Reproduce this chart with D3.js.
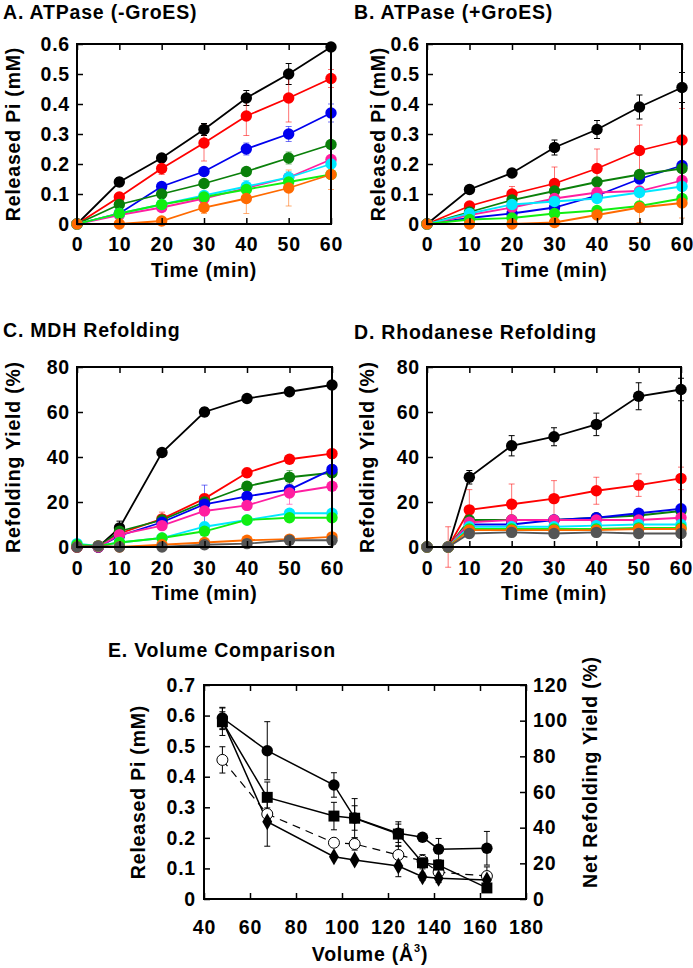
<!DOCTYPE html>
<html><head><meta charset="utf-8">
<script src="https://cdn.jsdelivr.net/npm/d3@7"></script>
<style>
body{margin:0;background:#fff}
svg text{font-family:"Liberation Sans",Arial,Helvetica,sans-serif;font-weight:bold;fill:#000;letter-spacing:0.8px}
</style></head><body>
<svg id="c" width="693" height="968"></svg>
<script>
// ---------- data ----------
const timeAB = [0,10,20,30,40,50,60];
const timeCD = [0,5,10,20,30,40,50,60];
const colorsAB = ["#000000","#ff0000","#0000ee","#0a800a","#ff1ea0","#00e8ff","#11ee11","#ff6a00"];
const colorsCD = ["#000000","#ff0000","#0a800a","#0000ee","#ff1ea0","#00e8ff","#11ee11","#ff6a00","#555555"];

// A. ATPase (-GroES), series order: black, red, blue, dark green, magenta, cyan, lime, orange
const atpNoGroES = [
  [0,0.14,0.22,0.315,0.42,0.50,0.59],
  [0,0.09,0.185,0.27,0.36,0.42,0.485],
  [0,0.035,0.125,0.175,0.25,0.30,0.37],
  [0,0.065,0.10,0.135,0.175,0.22,0.265],
  [0,0.03,0.055,0.085,0.12,0.155,0.215],
  [0,0.035,0.065,0.095,0.125,0.155,0.20],
  [0,0.035,0.065,0.09,0.115,0.14,0.165],
  [0,0,0.01,0.055,0.085,0.12,0.165]
];
const atpNoGroESErr = [
  [0,0.015,0.01,0.02,0.025,0.035,0.005],
  [0,0.01,0.02,0.06,0.065,0.08,0.03],
  [0,0.005,0.01,0.01,0.02,0.025,0.03],
  [0,0.01,0.01,0.01,0.01,0.02,0.01],
  [0,0.005,0.005,0.01,0.01,0.01,0.01],
  [0,0.005,0.01,0.01,0.02,0.02,0.015],
  [0,0.005,0.01,0.01,0.01,0.01,0.01],
  [0,0,0.005,0.02,0.05,0.06,0.05]
];
// B. ATPase (+GroES)
const atpGroES = [
  [0,0.115,0.17,0.255,0.315,0.39,0.455],
  [0,0.06,0.10,0.135,0.185,0.245,0.28],
  [0,0.02,0.035,0.055,0.095,0.15,0.195],
  [0,0.04,0.08,0.11,0.14,0.165,0.185],
  [0,0.03,0.055,0.085,0.105,0.11,0.145],
  [0,0.035,0.065,0.075,0.085,0.105,0.125],
  [0,0.015,0.02,0.035,0.045,0.06,0.085],
  [0,0,0,0.005,0.03,0.055,0.07]
];
const atpGroESErr = [
  [0,0.01,0.01,0.025,0.03,0.04,0.05],
  [0,0.01,0.025,0.055,0.065,0.085,0.105],
  [0,0.005,0.005,0.01,0.01,0.01,0.01],
  [0,0.005,0.01,0.01,0.01,0.01,0.01],
  [0,0.005,0.005,0.01,0.01,0.01,0.01],
  [0,0.005,0.01,0.01,0.01,0.01,0.01],
  [0,0.005,0.005,0.005,0.01,0.01,0.01],
  [0,0,0,0.005,0.01,0.05,0.05]
];
// C. MDH refolding (%), order: black, red, dark green, blue, magenta, cyan, lime, orange, gray
const mdhRefold = [
  [0,0,8.5,42,60,66,69,72],
  [0,0,6,12.5,21.5,33,39,41.5],
  [0,0,7,12,20,27,31,33],
  [0,0,5,11,19,22.5,25.5,34.5],
  [0,0,5.5,9.5,16,18.5,24,27],
  [1.5,0.5,2,4,9,12,15,15],
  [1,0.5,2,4,7,12,13,13],
  [0,0.5,0,1,2,3,3.5,4.5],
  [0,0.5,0,0,1,1.5,3,3]
];
const mdhRefoldErr = [
  [0,0,3,1,2,1,1,1],
  [0,0,1,3,2,2,1,2],
  [0,0,1,2,1,2,3,2],
  [0,0,1,2,8.5,2,2,2],
  [0,0,1,1,2,2,5,1],
  [0,0,1,1,2,1,1,1],
  [0,0,1,1,1,1,1,1],
  [0,0,0,0.5,0.5,0.5,0.5,0.5],
  [0,0,0,0.5,0.5,0.5,0.5,0.5]
];
// D. Rhodanese refolding (%)
const rhoRefold = [
  [0,0,31,45,49,54.5,67,70],
  [0,0,16.5,19,21.5,25,27.5,30.5],
  [0,0,12,12,12,13,14,16],
  [0,0,10,10,12,13,15,17],
  [0,0,11,12,12,12,12,13],
  [0,0,9,9,9,9.5,10,10],
  [0,0,8,8,8,8,8.5,8.5],
  [0,0,7.5,7.5,7.5,7.5,8,8],
  [0,0,6,6.5,6,6.5,6,6]
];
const rhoRefoldErr = [
  [0,0,3,4.5,4,5,6,5],
  [0,9,9,9,8,6,5,5],
  [0,0,1,1,1,1,1,1],
  [0,0,1,1,1,1,1,1],
  [0,0,1,1,1,1,1,1],
  [0,0,1,1,1,1,1,1],
  [0,0,1,1,1,1,1,1],
  [0,0,1,1,1,1,1,1],
  [0,0,2,2,2,2,2,2]
];
// E. Volume comparison
const volumes = [48,67.5,96.5,105.5,124.5,135,142,163];
const atpNoGroESVol = [0.592,0.485,0.373,0.265,0.215,0.202,0.163,0.166];
const atpNoGroESVolErr = [0.035,0.095,0.04,0.04,0.03,0.01,0.035,0.055];
const atpGroESVol = [0.455,0.278,0.184,0.18,0.144,0.125,0.088,0.075];
const atpGroESVolErr = [0.043,0.02,0.01,0.02,0.03,0.02,0.01,0.03];
const mdhNetYield = [99.4,57,46.5,45.3,36.4,20.3,19,6.2];
const mdhNetYieldErr = [7.7,8.6,7.7,11,6.9,3.4,2,2];
const rhoNetYield = [100,43.3,23.7,21.9,18.5,12.5,11.7,10.6];
const rhoNetYieldErr = [5,13.7,1,1,6,2,2.5,1];

const ticksAB_Y = [0,0.1,0.2,0.3,0.4,0.5,0.6];
const ticksCD_Y = [0,20,40,60,80];
const ticksTime = [0,10,20,30,40,50,60];
const ticksVol = [40,60,80,100,120,140,160,180];
const ticksVolL = [0,0.1,0.2,0.3,0.4,0.5,0.6,0.7];
const ticksVolR = [0,20,40,60,80,100,120];

// ---------- drawing ----------
const svg = d3.select("#c");
const FS = 19.5;
const fmtPi = d => d === 0 ? "0" : d3.format(".1f")(d);

function frame(g, x, y){
  g.append("rect").attr("x", x.range()[0]).attr("y", y.range()[1])
    .attr("width", x.range()[1]-x.range()[0]).attr("height", y.range()[0]-y.range()[1])
    .attr("fill","none").attr("stroke","#000").attr("stroke-width",2);
}
function styleAxis(a){
  a.attr("font-family",null).attr("font-size",null);
  a.select(".domain").remove();
  a.selectAll(".tick line").attr("stroke","#000").attr("stroke-width",1.5);
  a.selectAll(".tick text").attr("font-size",FS).attr("fill","#000");
}
function axes(g, x, y, xt, yt, yfmt, xpad, ypad){
  styleAxis(g.append("g").attr("transform",`translate(0,${y.range()[0]})`)
    .call(d3.axisBottom(x).tickValues(xt).tickSize(-6).tickSizeOuter(0).tickPadding(xpad)));
  styleAxis(g.append("g").attr("transform",`translate(0,${y.range()[1]})`)
    .call(d3.axisTop(x).tickValues(xt).tickSize(-6).tickSizeOuter(0).tickFormat("")));
  styleAxis(g.append("g").attr("transform",`translate(${x.range()[0]},0)`)
    .call(d3.axisLeft(y).tickValues(yt).tickSize(-6).tickSizeOuter(0).tickPadding(ypad).tickFormat(yfmt)));
}
function errBars(g, x, y, xs, vals, errs, color, op){
  const cap = 3;
  xs.forEach((t,i)=>{
    const e = errs[i]; if (!e) return;
    const cx = x(t), y1 = y(vals[i]-e), y2 = y(vals[i]+e);
    const p = `M${cx},${y1}V${y2}M${cx-cap},${y1}H${cx+cap}M${cx-cap},${y2}H${cx+cap}`;
    g.append("path").attr("d",p).attr("stroke",color).attr("stroke-width",1)
      .attr("fill","none").attr("opacity",op);
  });
}
function timePanel(o){
  const g = svg.append("g");
  const x = d3.scaleLinear().domain([0,60]).range([o.x0,o.x1]);
  const y = d3.scaleLinear().domain(o.yDomain).range([o.y1,o.y0]);
  const line = d3.line().x(d=>x(d[0])).y(d=>y(d[1]));
  o.series.forEach((s,k)=>{
    const c = o.colors[k];
    errBars(g, x, y, o.times, s, o.errs[k], c, c === "#000000" ? 1 : 0.55);
    g.append("path").datum(o.times.map((t,i)=>[t,s[i]])).attr("d",line)
      .attr("fill","none").attr("stroke",c).attr("stroke-width",1.8);
  });
  o.series.forEach((s,k)=>{
    g.selectAll(null).data(o.times.map((t,i)=>[t,s[i]])).enter().append("circle")
      .attr("cx",d=>x(d[0])).attr("cy",d=>y(d[1])).attr("r",5.7).attr("fill",o.colors[k]);
  });
  frame(g,x,y);
  axes(g,x,y,ticksTime,o.yTicks,o.yFmt,o.xpad,7);
  g.append("text").attr("x",o.tx).attr("y",o.ty).attr("font-size",FS).text(o.title);
  g.append("text").attr("x",(o.x0+o.x1)/2).attr("y",o.y1+53).attr("text-anchor","middle")
    .attr("font-size",FS).text("Time (min)");
  g.append("text").attr("transform",`translate(${o.ytx},${(o.y0+o.y1)/2}) rotate(-90)`)
    .attr("text-anchor","middle").attr("font-size",FS).text(o.yTitle);
}

timePanel({x0:77,x1:331,y0:44,y1:224,yDomain:[0,0.6],yTicks:ticksAB_Y,yFmt:fmtPi,xpad:13,
  times:timeAB,series:atpNoGroES,errs:atpNoGroESErr,colors:colorsAB,
  title:"A. ATPase (-GroES)",tx:3,ty:18.5,yTitle:"Released Pi (mM)",ytx:20});
timePanel({x0:427,x1:682,y0:44,y1:224,yDomain:[0,0.6],yTicks:ticksAB_Y,yFmt:fmtPi,xpad:13,
  times:timeAB,series:atpGroES,errs:atpGroESErr,colors:colorsAB,
  title:"B. ATPase (+GroES)",tx:354,ty:18.5,yTitle:"Released Pi (mM)",ytx:385});
timePanel({x0:77,x1:332,y0:367,y1:547,yDomain:[0,80],yTicks:ticksCD_Y,yFmt:d3.format("d"),xpad:14,
  times:timeCD,series:mdhRefold,errs:mdhRefoldErr,colors:colorsCD,
  title:"C. MDH Refolding",tx:3,ty:337,yTitle:"Refolding Yield (%)",ytx:20});
timePanel({x0:427,x1:681,y0:367,y1:547,yDomain:[0,80],yTicks:ticksCD_Y,yFmt:d3.format("d"),xpad:14,
  times:timeCD,series:rhoRefold,errs:rhoRefoldErr,colors:colorsCD,
  title:"D. Rhodanese Refolding",tx:354,ty:339,yTitle:"Refolding Yield (%)",ytx:374});

// Panel E
(function(){
  const g = svg.append("g");
  const x = d3.scaleLinear().domain([40,180]).range([204,526]);
  const yL = d3.scaleLinear().domain([0,0.7]).range([899,685]);
  const yR = d3.scaleLinear().domain([0,120]).range([899,685]);
  const lineL = d3.line().x(d=>x(d[0])).y(d=>yL(d[1]));
  const lineR = d3.line().x(d=>x(d[0])).y(d=>yR(d[1]));
  const pts = arr => volumes.map((v,i)=>[v,arr[i]]);

  errBars(g,x,yL,volumes,atpNoGroESVol,atpNoGroESVolErr,"#000",1);
  errBars(g,x,yL,volumes,atpGroESVol,atpGroESVolErr,"#000",1);
  errBars(g,x,yR,volumes,mdhNetYield,mdhNetYieldErr,"#000",1);
  errBars(g,x,yR,volumes,rhoNetYield,rhoNetYieldErr,"#000",1);

  g.append("path").datum(pts(atpNoGroESVol)).attr("d",lineL).attr("fill","none").attr("stroke","#000").attr("stroke-width",1.5);
  g.append("path").datum(pts(atpGroESVol)).attr("d",lineL).attr("fill","none").attr("stroke","#000").attr("stroke-width",1.2).attr("stroke-dasharray","8,6");
  g.append("path").datum(pts(mdhNetYield)).attr("d",lineR).attr("fill","none").attr("stroke","#000").attr("stroke-width",1.5);
  g.append("path").datum(pts(rhoNetYield)).attr("d",lineR).attr("fill","none").attr("stroke","#000").attr("stroke-width",1.5);

  g.selectAll(null).data(pts(atpNoGroESVol)).enter().append("circle")
    .attr("cx",d=>x(d[0])).attr("cy",d=>yL(d[1])).attr("r",5.7).attr("fill","#000");
  g.selectAll(null).data(pts(atpGroESVol)).enter().append("circle")
    .attr("cx",d=>x(d[0])).attr("cy",d=>yL(d[1])).attr("r",5.5).attr("fill","#fff").attr("stroke","#000").attr("stroke-width",1);
  const sq = d3.symbol().type(d3.symbolSquare).size(120);
  g.selectAll(null).data(pts(mdhNetYield)).enter().append("path").attr("d",sq)
    .attr("transform",d=>`translate(${x(d[0])},${yR(d[1])})`).attr("fill","#000");
  const di = d3.symbol().type(d3.symbolDiamond).size(85);
  g.selectAll(null).data(pts(rhoNetYield)).enter().append("path").attr("d",di)
    .attr("transform",d=>`translate(${x(d[0])},${yR(d[1])})`).attr("fill","#000");

  frame(g,x,yL);
  styleAxis(g.append("g").attr("transform","translate(0,899)")
    .call(d3.axisBottom(x).tickValues(ticksVol).tickSize(-6).tickSizeOuter(0).tickPadding(21)));
  styleAxis(g.append("g").attr("transform","translate(0,685)")
    .call(d3.axisTop(x).tickValues(ticksVol).tickSize(-6).tickSizeOuter(0).tickFormat("")));
  styleAxis(g.append("g").attr("transform","translate(204,0)")
    .call(d3.axisLeft(yL).tickValues(ticksVolL).tickSize(-6).tickSizeOuter(0).tickPadding(8).tickFormat(fmtPi)));
  styleAxis(g.append("g").attr("transform","translate(526,0)")
    .call(d3.axisRight(yR).tickValues(ticksVolR).tickSize(-6).tickSizeOuter(0).tickPadding(7).tickFormat(d3.format("d"))));

  g.append("text").attr("x",108).attr("y",657).attr("font-size",FS).text("E. Volume Comparison");
  const xt = g.append("text").attr("x",370).attr("y",961).attr("text-anchor","middle").attr("font-size",FS);
  xt.append("tspan").text("Volume (Å");
  xt.append("tspan").attr("font-size",11).attr("dy",-9).text("3");
  xt.append("tspan").attr("dy",9).text(")");
  g.append("text").attr("transform","translate(145,792) rotate(-90)").attr("text-anchor","middle")
    .attr("font-size",FS).text("Released Pi (mM)");
  g.append("text").attr("transform","translate(597,772) rotate(-90)").attr("text-anchor","middle")
    .attr("font-size",FS).text("Net Refolding Yield (%)");
})();
</script>
</body></html>
